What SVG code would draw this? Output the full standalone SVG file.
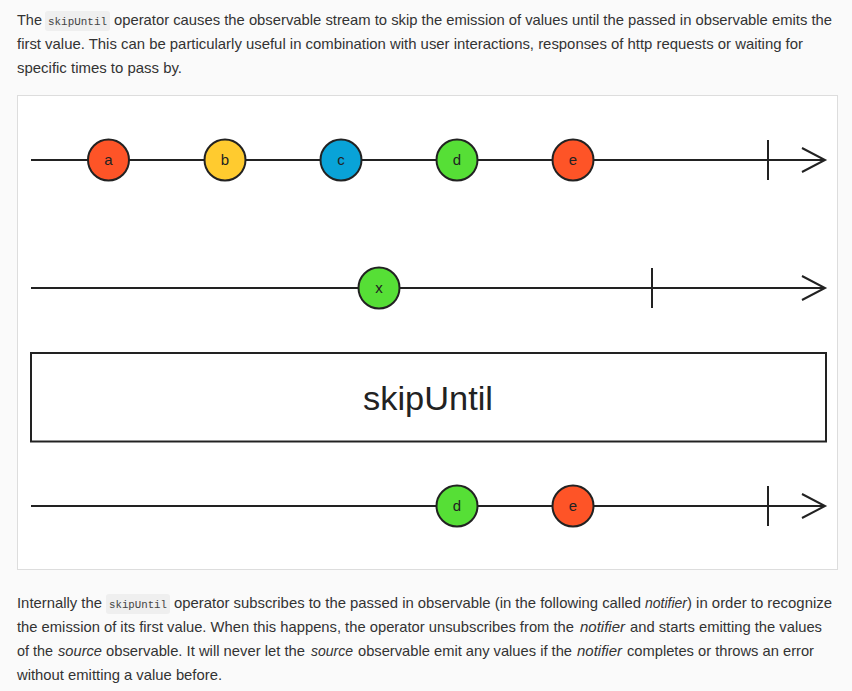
<svg xmlns="http://www.w3.org/2000/svg" width="852" height="691" viewBox="0 0 852 691">
<style>
.t{font-family:"Liberation Sans",Arial,Helvetica,sans-serif;font-size:14.5px;fill:#333;}
.i{font-style:italic;}
.code{font-family:"Liberation Mono","DejaVu Sans Mono",monospace;font-size:11.5px;fill:#444;}
.cb{fill:#efefef;}
.ln{stroke:#222;stroke-width:2;fill:none;}
.mb{stroke:#222;stroke-width:2;}
.lbl{font-family:"Liberation Sans",Arial,sans-serif;font-size:15px;fill:#222;text-anchor:middle;}
.or{fill:#fe5427;}
.ye{fill:#ffcb2f;}
.bl{fill:#09a3d8;}
.gr{fill:#56df36;}
</style>
<rect x="0" y="0" width="852" height="691" fill="#fafafa"/>
<g id="intro">
<rect class="cb" x="45" y="11" width="65" height="20" rx="3"/>
<text class="t" y="25"><tspan x="17">The</tspan><tspan class="code" x="48" textLength="59" lengthAdjust="spacingAndGlyphs">skipUntil</tspan><tspan x="114" textLength="718" lengthAdjust="spacingAndGlyphs">operator causes the observable stream to skip the emission of values until the passed in observable emits the</tspan></text>
<text class="t" x="17" y="49" textLength="786" lengthAdjust="spacingAndGlyphs">first value. This can be particularly useful in combination with user interactions, responses of http requests or waiting for</text>
<text class="t" x="17" y="73" textLength="165" lengthAdjust="spacingAndGlyphs">specific times to pass by.</text>
</g>
<rect id="panel" x="17.5" y="95.5" width="820" height="474" fill="#fff" stroke="#ddd" stroke-width="1"/>
<g id="connectors">
<line class="ln" x1="31" y1="160" x2="825" y2="160"/>
<line class="ln" x1="768" y1="140" x2="768" y2="180"/>
<polyline class="ln" points="802,148 825,160 802,172"/>
<line class="ln" x1="31" y1="288" x2="825" y2="288"/>
<line class="ln" x1="652" y1="268" x2="652" y2="308"/>
<polyline class="ln" points="802,276 825,288 802,300"/>
<line class="ln" x1="31" y1="506" x2="825" y2="506"/>
<line class="ln" x1="768" y1="486" x2="768" y2="526"/>
<polyline class="ln" points="802,494 825,506 802,518"/>
</g>
<g id="src-a"><circle class="or mb" cx="108.5" cy="160" r="20.5"/><text class="lbl" x="108.5" y="165">a</text></g>
<g id="src-b"><circle class="ye mb" cx="225" cy="160" r="20.5"/><text class="lbl" x="225" y="165">b</text></g>
<g id="src-c"><circle class="bl mb" cx="341" cy="160" r="20.5"/><text class="lbl" x="341" y="165">c</text></g>
<g id="src-d"><circle class="gr mb" cx="457" cy="160" r="20.5"/><text class="lbl" x="457" y="165">d</text></g>
<g id="src-e"><circle class="or mb" cx="573" cy="160" r="20.5"/><text class="lbl" x="573" y="165">e</text></g>
<g id="notifier-x"><circle class="gr mb" cx="379" cy="288" r="20.5"/><text class="lbl" x="379" y="293">x</text></g>
<g id="operator">
<rect x="31" y="353" width="795" height="88.5" fill="#fff" stroke="#222" stroke-width="2"/>
<text x="363" y="410" font-family="Liberation Sans,Arial,sans-serif" font-size="33" fill="#222" textLength="130" lengthAdjust="spacingAndGlyphs">skipUntil</text>
</g>
<g id="out-d"><circle class="gr mb" cx="457" cy="506" r="20.5"/><text class="lbl" x="457" y="511">d</text></g>
<g id="out-e"><circle class="or mb" cx="573" cy="506" r="20.5"/><text class="lbl" x="573" y="511">e</text></g>
<g id="outro">
<rect class="cb" x="106" y="594" width="64" height="20" rx="3"/>
<text class="t" y="608"><tspan x="17" textLength="85" lengthAdjust="spacingAndGlyphs">Internally the</tspan><tspan class="code" x="109" textLength="58" lengthAdjust="spacingAndGlyphs">skipUntil</tspan><tspan x="174" textLength="467" lengthAdjust="spacingAndGlyphs">operator subscribes to the passed in observable (in the following called</tspan><tspan class="i" x="645" textLength="42" lengthAdjust="spacingAndGlyphs">notifier</tspan><tspan x="687" textLength="145" lengthAdjust="spacingAndGlyphs">) in order to recognize</tspan></text>
<text class="t" y="632"><tspan x="17" textLength="557" lengthAdjust="spacingAndGlyphs">the emission of its first value. When this happens, the operator unsubscribes from the</tspan><tspan class="i" x="580" textLength="45" lengthAdjust="spacingAndGlyphs">notifier</tspan><tspan x="630" textLength="192" lengthAdjust="spacingAndGlyphs">and starts emitting the values</tspan></text>
<text class="t" y="656"><tspan x="17" textLength="36" lengthAdjust="spacingAndGlyphs">of the</tspan><tspan class="i" x="58" textLength="44" lengthAdjust="spacingAndGlyphs">source</tspan><tspan x="106" textLength="199" lengthAdjust="spacingAndGlyphs">observable. It will never let the</tspan><tspan class="i" x="311" textLength="42" lengthAdjust="spacingAndGlyphs">source</tspan><tspan x="358" textLength="214" lengthAdjust="spacingAndGlyphs">observable emit any values if the</tspan><tspan class="i" x="577" textLength="45" lengthAdjust="spacingAndGlyphs">notifier</tspan><tspan x="627" textLength="187" lengthAdjust="spacingAndGlyphs">completes or throws an error</tspan></text>
<text class="t" x="17" y="680" textLength="205" lengthAdjust="spacingAndGlyphs">without emitting a value before.</text>
</g>
</svg>
